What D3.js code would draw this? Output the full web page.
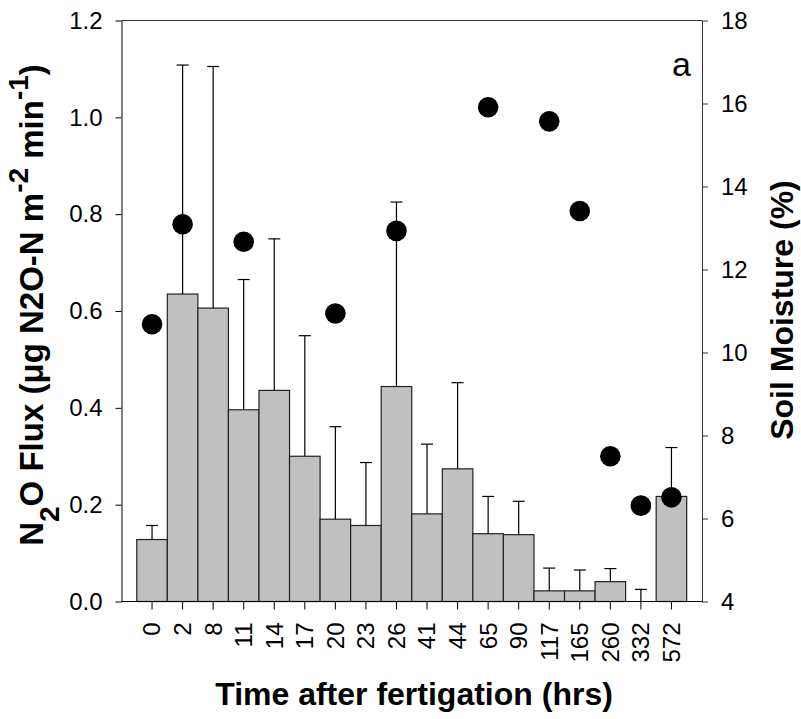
<!DOCTYPE html>
<html>
<head>
    <meta charset="utf-8">
    <style>
        body { margin: 0; background: white; }
        svg { font-family: "Liberation Sans", Arial, sans-serif; }
    </style>
</head>
<body>
<svg width="801" height="719"></svg>

<script src="https://d3js.org/d3.v7.min.js"></script>
<script>
    // hours after fertigation (categories)
    let hours = ["0", "2", "8", "11", "14", "17", "20", "23", "26", "41", "44", "65", "90", "117", "165", "260", "332", "572"]
    // N2O flux means and upper error (mean + se)
    let flux = [0.128, 0.635, 0.606, 0.396, 0.436, 0.300, 0.170, 0.157, 0.444, 0.181, 0.274, 0.140, 0.138, 0.022, 0.022, 0.041, 0.0, 0.217]
    let fluxTop = [0.157, 1.108, 1.105, 0.665, 0.749, 0.549, 0.361, 0.287, 0.825, 0.325, 0.452, 0.217, 0.207, 0.069, 0.065, 0.068, 0.025, 0.318]
    // soil moisture (%), null where not measured
    let moisture = [10.68, 13.09, null, 12.67, null, null, 10.94, null, 12.93, null, null, 15.91, null, 15.57, 13.41, 7.50, 6.31, 6.51]
    let leftTicks = [0, 0.2, 0.4, 0.6, 0.8, 1.0, 1.2]
    let rightTicks = [4, 6, 8, 10, 12, 14, 16, 18]

    let plotL = 121.5, plotR = 702, plotT = 20.5, plotB = 601.5

    let svg = d3.select("svg")

    let x = d3.scaleBand()
        .domain(hours)
        .range([plotL, plotR])
        .paddingInner(0)
        .paddingOuter(0.5)

    let y = d3.scaleLinear().domain([0, 1.2]).range([plotB, plotT])
    let y2 = d3.scaleLinear().domain([4, 18]).range([plotB, plotT])

    let rows = hours.map((h, i) => ({ h: h, v: flux[i], e: fluxTop[i], m: moisture[i] }))

    // bars
    svg.append("g")
        .selectAll("rect")
        .data(rows)
        .join("rect")
        .attr("x", d => x(d.h))
        .attr("y", d => y(d.v))
        .attr("width", x.bandwidth())
        .attr("height", d => y(0) - y(d.v))
        .attr("fill", "#c0c0c0")
        .attr("stroke", "#222")
        .attr("stroke-width", 1.2)

    // error bars (upper only)
    let err = svg.append("g").attr("stroke", "black").attr("stroke-width", 1.2)
    err.selectAll(".stem")
        .data(rows)
        .join("line")
        .attr("class", "stem")
        .attr("x1", d => x(d.h) + x.bandwidth() / 2)
        .attr("x2", d => x(d.h) + x.bandwidth() / 2)
        .attr("y1", d => y(d.v))
        .attr("y2", d => y(d.e))
    err.selectAll(".cap")
        .data(rows)
        .join("line")
        .attr("class", "cap")
        .attr("x1", d => x(d.h) + x.bandwidth() / 2 - 6)
        .attr("x2", d => x(d.h) + x.bandwidth() / 2 + 6)
        .attr("y1", d => y(d.e))
        .attr("y2", d => y(d.e))

    // frame top
    svg.append("line")
        .attr("x1", plotL).attr("x2", plotR)
        .attr("y1", plotT).attr("y2", plotT)
        .attr("stroke", "#333")

    // left axis
    let gl = svg.append("g")
        .attr("transform", "translate(" + plotL + ",0)")
        .call(d3.axisLeft(y).tickValues(leftTicks).tickFormat(d3.format(".1f")).tickSize(6).tickPadding(13).tickSizeOuter(0))
    gl.selectAll("text").style("font-size", "24px").attr("fill", "black")
    gl.selectAll("line, path").attr("stroke", "black")

    // right axis
    let gr = svg.append("g")
        .attr("transform", "translate(" + plotR + ",0)")
        .call(d3.axisRight(y2).tickValues(rightTicks).tickSize(6).tickPadding(13).tickSizeOuter(0))
    gr.selectAll("text").style("font-size", "24px").attr("fill", "black")
    gr.selectAll("line, path").attr("stroke", "#333")

    // bottom axis
    let gb = svg.append("g")
        .attr("transform", "translate(0," + plotB + ")")
        .call(d3.axisBottom(x).tickSize(8).tickSizeOuter(0))
    gb.select(".domain").attr("d", "M" + plotL + ",0H" + plotR)
    gb.selectAll("line, path").attr("stroke", "black")
    gb.selectAll("text")
        .style("font-size", "24px")
        .attr("fill", "black")
        .attr("transform", "rotate(-90)")
        .attr("x", -21)
        .attr("y", 0)
        .attr("dy", "0.35em")
        .style("text-anchor", "end")

    // moisture dots
    svg.append("g")
        .selectAll("circle")
        .data(rows.filter(d => d.m != null))
        .join("circle")
        .attr("cx", d => x(d.h) + x.bandwidth() / 2)
        .attr("cy", d => y2(d.m))
        .attr("r", 10.3)
        .attr("fill", "black")

    // panel letter
    svg.append("text")
        .attr("x", 691)
        .attr("y", 76)
        .attr("text-anchor", "end")
        .style("font-size", "34px")
        .text("a")

    // axis titles
    let lt = svg.append("text")
        .attr("transform", "translate(43,305) rotate(-90)")
        .attr("text-anchor", "middle")
        .style("font-size", "33px")
        .style("font-weight", "bold")
    lt.append("tspan").text("N")
    lt.append("tspan").text("2").attr("baseline-shift", "sub").style("font-size", "28px")
    lt.append("tspan").text("O Flux (μg N2O-N m")
    lt.append("tspan").text("-2").attr("baseline-shift", "super").style("font-size", "28px")
    lt.append("tspan").text(" min")
    lt.append("tspan").text("-1").attr("baseline-shift", "super").style("font-size", "28px")
    lt.append("tspan").text(")")

    svg.append("text")
        .attr("transform", "translate(793,310) rotate(-90)")
        .attr("text-anchor", "middle")
        .style("font-size", "32px")
        .style("font-weight", "bold")
        .text("Soil Moisture (%)")

    svg.append("text")
        .attr("x", 414)
        .attr("y", 705)
        .attr("text-anchor", "middle")
        .style("font-size", "32px")
        .style("font-weight", "bold")
        .text("Time after fertigation (hrs)")
</script>
</body>
</html>
